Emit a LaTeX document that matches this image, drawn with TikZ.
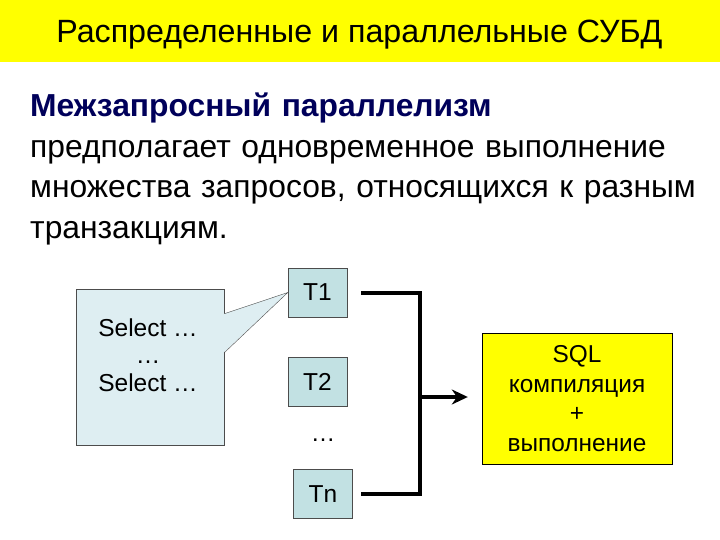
\documentclass[tikz,border=0pt]{standalone}
\usepackage{fontspec}
\setmainfont{Liberation Sans}
\usetikzlibrary{arrows.meta,positioning,calc}
\definecolor{titleyellow}{RGB}{255,255,0}
\definecolor{tfill}{RGB}{194,225,227}
\definecolor{qfill}{RGB}{222,238,242}
\definecolor{navy}{RGB}{0,0,90}

\begin{document}
\begin{tikzpicture}[x=1pt, y=-1pt, >=Stealth,
    tbox/.style={draw=black!70, fill=tfill, minimum width=59pt, minimum height=49pt,
      inner sep=0pt, font=\fontsize{24.5}{28}\selectfont},
    bar/.style={line width=4pt}]
  \useasboundingbox (0,0) rectangle (720,540);
  % Title bar
  \fill[titleyellow] (0,0) rectangle (720,62);
  \node[anchor=base] (title) at (359.5,43) {\fontsize{32.2}{36}\selectfont Распределенные и параллельные СУБД};
  % Body text
  \node[anchor=north west, align=left, inner sep=0pt, text width=690pt,
    font=\fontsize{31.8}{40.5}\selectfont] (body) at (30,93)
    {\textcolor{navy}{\textbf{Межзапросный параллелизм}}\\
     предполагает одновременное выполнение\\
     множества запросов, относящихся к разным\\
     транзакциям.};
  % Transactions
  \node[tbox] (T1) at (317.5,292.5) {T1};
  \node[tbox] (T2) at (317.5,382) {T2};
  \node (dots) at (323,440) {\fontsize{24.5}{28}\selectfont …};
  \node[tbox] (Tn) at (323,494) {Tn};
  % Query callout
  \node[draw=black!70, fill=qfill, minimum width=148pt, minimum height=156pt] (query) at (150,367) {};
  \node[align=center, font=\fontsize{24.5}{27.5}\selectfont] (qtext) at (148,355)
    {Select …\\…\\Select …};
  \fill[qfill] ($(query.north east)+(-0.6,25)$) -- (T1.west) -- ($(query.north east)+(-0.6,64)$) -- cycle;
  \draw[black!70] ($(query.north east)+(0,25)$) -- (T1.west) -- ($(query.north east)+(0,64)$);
  % SQL processor
  \node[draw, fill=titleyellow, minimum width=190pt, minimum height=131pt, align=center,
    font=\fontsize{24.4}{29.7}\selectfont] (sql) at (577,398.5)
    {SQL\\компиляция\\+\\выполнение};
  % Bus and arrow
  \coordinate (jn) at (420,397);
  \draw[bar] ([xshift=14pt]T1.east) -| (jn) |- ([xshift=8pt]Tn.east);
  \draw[bar, -{Stealth[length=16pt, width=15pt]}, shorten >=14pt] (jn) -- (jn -| sql.west);
\end{tikzpicture}
\end{document}
